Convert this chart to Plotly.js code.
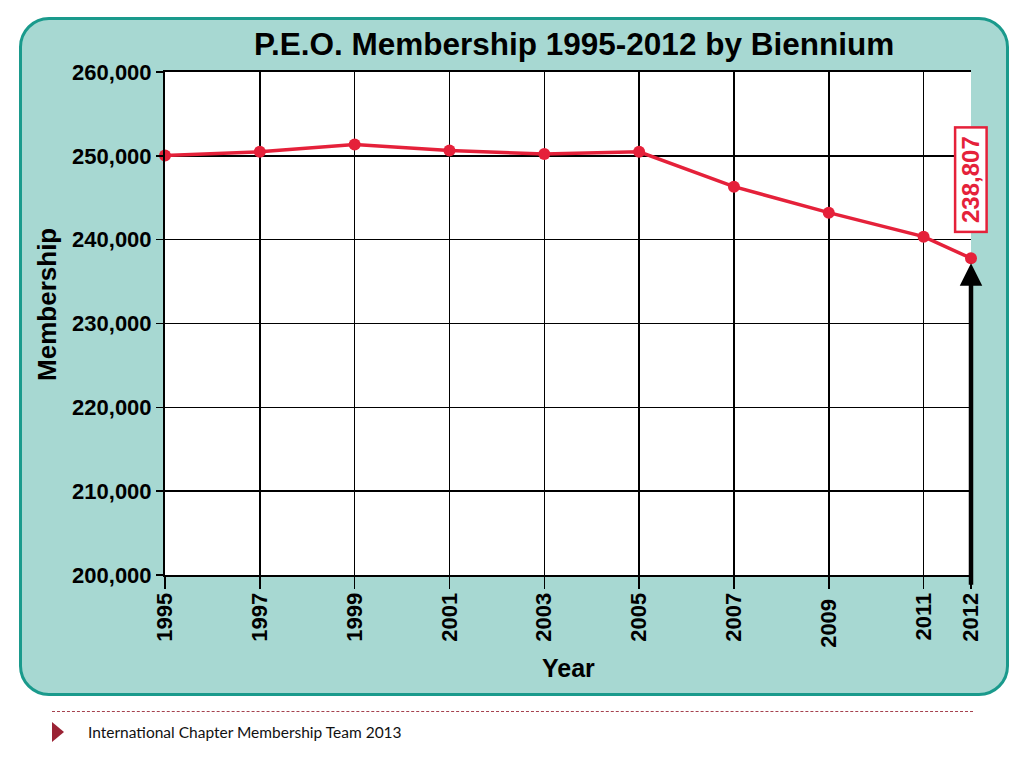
<!DOCTYPE html>
<html>
<head>
<meta charset="utf-8">
<script src="https://cdn.plot.ly/plotly-3.0.1.min.js"></script>
<style>
  body { margin: 0; background: #ffffff; width: 1024px; height: 768px; position: relative; overflow: hidden; }
  #panel { position: absolute; left: 19px; top: 17px; width: 984px; height: 673px;
           background: #a7d8d2; border: 3px solid #1a9a8c; border-radius: 30px; }
  #chart { position: absolute; left: 0; top: 0; width: 1024px; height: 768px; }
  #rule { position: absolute; left: 52px; top: 711px; width: 921px; border-top: 1px dashed #a5424f; }
  #mark { position: absolute; left: 52px; top: 722px; width: 0; height: 0;
          border-top: 10px solid transparent; border-bottom: 10px solid transparent; border-left: 12px solid #9b2335; }
  #foot { position: absolute; left: 88px; top: 723px; font-family: Lato, sans-serif; font-size: 15.5px; color: #111; }
</style>
</head>
<body>
<div id="panel"></div>
<div id="chart"></div>
<div id="rule"></div>
<div id="mark"></div>
<div id="foot">International Chapter Membership Team 2013</div>
<script>
// membership by biennium
var years = [1995, 1997, 1999, 2001, 2003, 2005, 2007, 2009, 2011, 2012];
var members = [250050, 250480, 251340, 250630, 250220, 250480, 246320, 243220, 240360, 237780];
var yearLabels = ['1995', '1997', '1999', '2001', '2003', '2005', '2007', '2009\u00a0', '2011', '2012'];
var memberTicks = [200000, 210000, 220000, 230000, 240000, 250000, 260000];

var red = '#e5213a';
var boldFont = 'Liberation Sans, Arial, sans-serif';

var trace1 = {
  x: years,
  y: members,
  type: 'scatter',
  mode: 'lines+markers',
  cliponaxis: false,
  line: { color: red, width: 3.5 },
  marker: { color: red, size: 12 },
  hoverinfo: 'x+y'
};

var layout = {
  width: 1024,
  height: 768,
  showlegend: false,
  paper_bgcolor: 'rgba(0,0,0,0)',
  plot_bgcolor: '#ffffff',
  margin: { l: 165, r: 53, t: 72, b: 193 },
  xaxis: {
    range: [1995, 2012],
    tickmode: 'array',
    tickvals: years,
    ticktext: yearLabels,
    tickangle: -90,
    ticks: 'outside',
    ticklen: 12,
    tickwidth: 1.5,
    tickcolor: '#000',
    ticklabelstandoff: -5,
    showgrid: true,
    gridcolor: '#000',
    gridwidth: 1.5,
    zeroline: false,
    showline: true,
    linecolor: '#000',
    linewidth: 2,
    mirror: true,
    tickfont: { family: boldFont, size: 22, color: '#000', weight: 'bold' }
  },
  yaxis: {
    range: [200000, 260000],
    tickmode: 'array',
    tickvals: memberTicks,
    tickformat: ',d',
    ticks: 'outside',
    ticklen: 7,
    tickwidth: 1.5,
    tickcolor: '#000',
    showgrid: true,
    gridcolor: '#000',
    gridwidth: 1.5,
    zeroline: false,
    showline: true,
    linecolor: '#000',
    linewidth: 2,
    tickfont: { family: boldFont, size: 22, color: '#000', weight: 'bold' }
  },
  annotations: [
    {
      text: 'P.E.O. Membership 1995-2012 by Biennium',
      xref: 'paper', yref: 'paper', x: 0.5074, y: 1.0557,
      xanchor: 'center', yanchor: 'middle', showarrow: false,
      font: { family: boldFont, size: 31.5, color: '#000', weight: 'bold' }
    },
    {
      text: 'Membership',
      xref: 'paper', yref: 'paper', x: -0.1464, y: 0.537,
      xanchor: 'center', yanchor: 'middle', textangle: -90, showarrow: false,
      font: { family: boldFont, size: 26, color: '#000', weight: 'bold' }
    },
    {
      text: 'Year',
      xref: 'paper', yref: 'paper', x: 0.5, y: -0.185,
      xanchor: 'center', yanchor: 'middle', showarrow: false,
      font: { family: boldFont, size: 25, color: '#000', weight: 'bold' }
    },
    {
      text: '\u00a0238,807\u00a0',
      xref: 'x', yref: 'paper', x: 2012, y: 0.785,
      xanchor: 'center', yanchor: 'middle', textangle: -90, showarrow: false,
      bgcolor: '#ffffff', bordercolor: red, borderwidth: 2.5, borderpad: 1,
      font: { family: boldFont, size: 24, color: red, weight: 'bold' }
    },
    {
      text: '',
      xref: 'x', yref: 'y', x: 2012, y: members[members.length - 1],
      ax: 0, ay: 328,
      showarrow: true, arrowhead: 2, arrowsize: 1, arrowwidth: 4.5,
      arrowcolor: '#000', standoff: 5
    }
  ]
};

Plotly.newPlot('chart', [trace1], layout, { staticPlot: true });
</script>
</body>
</html>
